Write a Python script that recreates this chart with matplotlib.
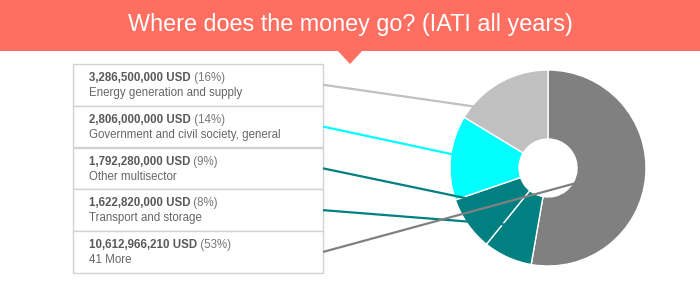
import matplotlib
matplotlib.use("Agg")
import matplotlib.pyplot as plt
from matplotlib.patches import Rectangle, Polygon
import numpy as np

plt.rcParams["font.family"] = ["Liberation Sans", "DejaVu Sans"]

title = "Where does the money go? (IATI all years)"
sectors = [
    "Energy generation and supply",
    "Government and civil society, general",
    "Other multisector",
    "Transport and storage",
    "41 More",
]
amounts_usd = [3286500000, 2806000000, 1792280000, 1622820000, 10612966210]
slice_colors = ["#C0C0C0", "#00FFFF", "#008080", "#008080", "#808080"]

W, H = 700, 285
fig = plt.figure(figsize=(7, 2.85), dpi=100)
fig.patch.set_facecolor("white")
ax = fig.add_axes([0, 0, 1, 1])
ax.set_axis_off()

total = sum(amounts_usd)
shares = [a / total * 100 for a in amounts_usd]

# Header band with a pointer
header_color = "#FF6F61"
ax.add_patch(Rectangle((0, 0), W, 51, facecolor=header_color, lw=0, zorder=1))
ax.add_patch(Polygon([(337, 50), (363, 50), (350, 64)], closed=True,
                     facecolor=header_color, lw=0, zorder=1))
ax.text(350, 25, title, color="white", fontsize=16.8, ha="center", va="center")

# Donut chart, drawn clockwise from twelve o'clock starting with the largest share
cx, cy, r_out, r_in = 548, 168, 98, 29
wedges, _ = ax.pie(
    amounts_usd[::-1],
    colors=slice_colors[::-1],
    startangle=270,
    counterclock=True,
    radius=r_out,
    center=(cx, cy),
    wedgeprops=dict(width=r_out - r_in, edgecolor="white", linewidth=1),
    frame=True,
)
for w in wedges:
    w.set_zorder(2)

ax.set_xlim(0, W)
ax.set_ylim(H, 0)
ax.set_axis_off()

# Legend boxes with leader lines to each slice
box_x, box_w, box_h, box_top, box_step = 73, 250, 41.5, 64, 41.8
fs = 8.3
n = len(sectors)
for i in range(n):
    top = box_top + i * box_step
    ax.add_patch(Rectangle((box_x, top), box_w, box_h, facecolor="white",
                           edgecolor="#d2d2d2", lw=1, zorder=3))
    t = ax.text(box_x + 16, top + 17, f"{amounts_usd[i]:,} USD", fontsize=fs,
                fontweight="bold", color="#595959", va="baseline", ha="left", zorder=4)
    ax.annotate(f" ({round(shares[i])}%)", xy=(1, top + 17), xycoords=(t, "data"),
                fontsize=fs, color="#777777", va="baseline", ha="left", zorder=4)
    ax.text(box_x + 16, top + 32, sectors[i], fontsize=fs, color="#666666",
            va="baseline", ha="left", zorder=4)

    w = wedges[n - 1 - i]
    mid = np.deg2rad((w.theta1 + w.theta2) / 2)
    rm = (r_out + r_in) / 2
    px, py = cx + rm * np.cos(mid), cy + rm * np.sin(mid)
    ax.plot([box_x + box_w, px], [top + box_h / 2, py], color=slice_colors[i],
            lw=1.6, zorder=5, solid_capstyle="butt")

fig.savefig("out.png", dpi=100, facecolor="white")
